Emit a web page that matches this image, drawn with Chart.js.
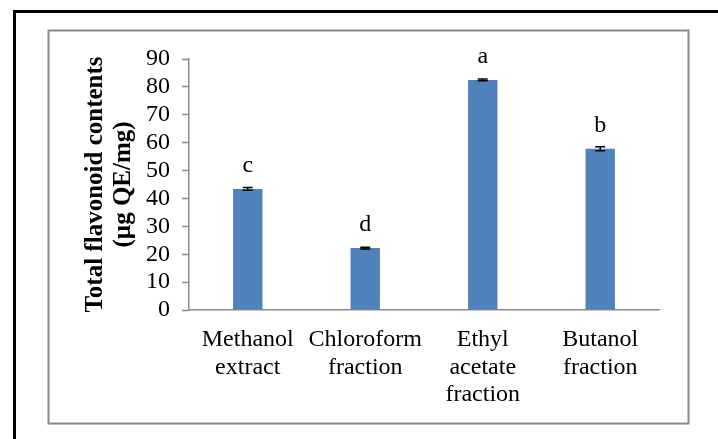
<!DOCTYPE html>
<html>
<head>
<meta charset="utf-8">
<script src="https://cdn.jsdelivr.net/npm/chart.js@4"></script>
<style>
html,body{margin:0;padding:0;background:#fff;overflow:hidden;}
#wrap{width:718px;height:439px;position:relative;}
</style>
</head>
<body>
<div id="wrap"><canvas id="c" width="718" height="439"></canvas></div>
<script>
const categories = [['Methanol','extract'],['Chloroform','fraction'],['Ethyl','acetate','fraction'],['Butanol','fraction']];
const values = [43.4, 22.2, 82.5, 57.8];
const errors = [0.5, 0.3, 0.3, 0.7];
const letters = ['c','d','a','b'];
const yTicks = [0,10,20,30,40,50,60,70,80,90];
const yTitle = ['Total flavonoid contents','(µg QE/mg)'];

const FONT = "'Liberation Serif','Times New Roman',serif";

const framePlugin = {
  id: 'frame',
  beforeDraw(chart) {
    const ctx = chart.ctx;
    ctx.save();
    ctx.fillStyle = '#fff';
    ctx.fillRect(0, 0, chart.width, chart.height);
    ctx.fillStyle = '#000';
    ctx.fillRect(13, 10, 3, 429);
    ctx.fillRect(13, 10, 705, 3);
    ctx.strokeStyle = '#8a8a8a';
    ctx.lineWidth = 2;
    ctx.strokeRect(48.5, 30.5, 640, 393);
    ctx.restore();
  }
};

const annotPlugin = {
  id: 'annot',
  afterDatasetsDraw(chart) {
    const ctx = chart.ctx;
    const y = chart.scales.y;
    const meta = chart.getDatasetMeta(0);
    ctx.save();
    meta.data.forEach((bar, i) => {
      const x = bar.x;
      const yHi = y.getPixelForValue(values[i] + errors[i]);
      const yLo = y.getPixelForValue(values[i] - errors[i]);
      ctx.strokeStyle = '#000';
      ctx.lineWidth = 1.5;
      ctx.beginPath();
      ctx.moveTo(x, yLo); ctx.lineTo(x, yHi);
      ctx.moveTo(x - 5, yHi); ctx.lineTo(x + 5, yHi);
      ctx.moveTo(x - 5, yLo); ctx.lineTo(x + 5, yLo);
      ctx.stroke();
      ctx.fillStyle = '#000';
      ctx.font = "24px " + FONT;
      ctx.textAlign = 'center';
      ctx.textBaseline = 'alphabetic';
      ctx.fillText(letters[i], x, y.getPixelForValue(values[i]) - 17);
    });
    ctx.restore();
  }
};

new Chart(document.getElementById('c'), {
  type: 'bar',
  data: {
    labels: categories,
    datasets: [{
      data: values,
      backgroundColor: '#4f81bd',
      borderWidth: 0,
      barPercentage: 0.25,
      categoryPercentage: 1.0
    }]
  },
  options: {
    responsive: false,
    animation: false,
    devicePixelRatio: 1,
    layout: { padding: { left: 82, top: 59, right: 59, bottom: 14 } },
    plugins: { legend: { display: false }, tooltip: { enabled: false } },
    scales: {
      x: {
        afterFit(s) { s.height = 115; },
        grid: { display: false, drawTicks: false },
        border: { display: true, color: '#8a8a8a', width: 1.5 },
        ticks: { color: '#000', font: { family: FONT, size: 24, lineHeight: 1.15 }, padding: 16, maxRotation: 0, autoSkip: false }
      },
      y: {
        min: 0, max: 90,
        afterFit(s) { s.width = 107; },
        afterBuildTicks(s) { s.ticks = yTicks.map(v => ({ value: v })); },
        grid: { display: true, drawOnChartArea: false, drawTicks: true, tickLength: 7, tickColor: '#8a8a8a', tickWidth: 1.5 },
        border: { display: true, color: '#8a8a8a', width: 1.5 },
        ticks: { color: '#000', font: { family: FONT, size: 24 }, padding: 12, autoSkip: false, stepSize: 10 },
        title: {
          display: true,
          text: yTitle,
          color: '#000',
          font: { family: FONT, size: 25, weight: 'bold', lineHeight: 1.1 },
          padding: 0
        }
      }
    }
  },
  plugins: [framePlugin, annotPlugin]
});
</script>
</body>
</html>
